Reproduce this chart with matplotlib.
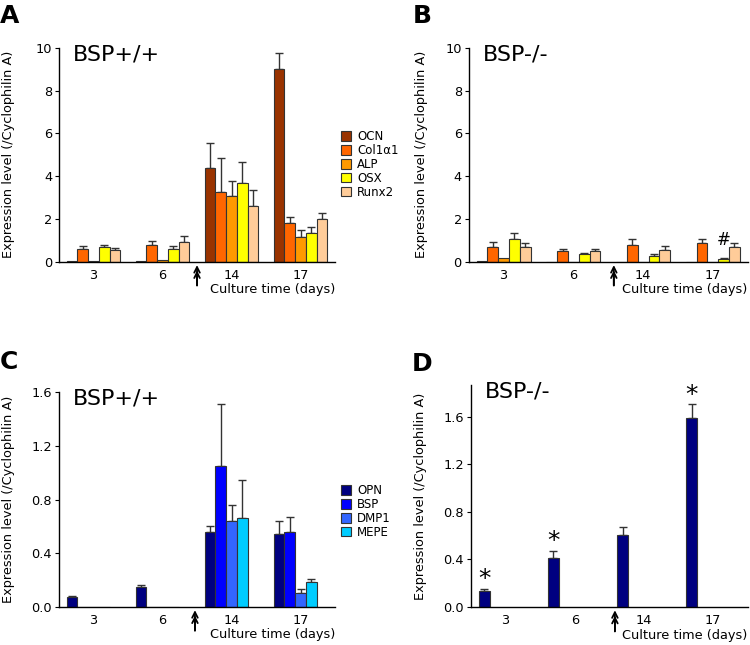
import numpy as np
import matplotlib.pyplot as plt
from matplotlib.transforms import blended_transform_factory

days = ['3', '6', '14', '17']

osteo_genes = ['OCN', 'Col1α1', 'ALP', 'OSX', 'Runx2']
osteo_colors = ['#993300', '#ff6600', '#ff9900', '#ffff00', '#ffcc99']

# panel A, BSP+/+
wt_osteo = [[0.02, 0.02, 4.40, 9.00],
            [0.60, 0.78, 3.25, 1.80],
            [0.03, 0.08, 3.08, 1.14],
            [0.70, 0.58, 3.70, 1.33],
            [0.57, 0.95, 2.60, 2.01]]
wt_osteo_err = [[0, 0, 1.15, 0.76],
                [0.12, 0.19, 1.60, 0.31],
                [0, 0, 0.70, 0.37],
                [0.10, 0.16, 0.98, 0.28],
                [0.06, 0.25, 0.75, 0.25]]

# panel B, BSP-/-
ko_osteo = [[0.02, 0, 0, 0],
            [0.70, 0.51, 0.79, 0.89],
            [0.20, 0, 0, 0],
            [1.09, 0.39, 0.28, 0.13],
            [0.70, 0.51, 0.55, 0.70]]
ko_osteo_err = [[0, 0, 0, 0],
                [0.23, 0.11, 0.30, 0.20],
                [0, 0, 0, 0],
                [0.28, 0.03, 0.08, 0.07],
                [0.20, 0.11, 0.18, 0.20]]
ko_osteo_marks = ['', '', '', '#']  # above OSX

sibling_genes = ['OPN', 'BSP', 'DMP1', 'MEPE']
sibling_colors = ['#000080', '#0000ff', '#3366ff', '#00ccff']

# panel C, BSP+/+
wt_sib = [[0.074, 0.149, 0.556, 0.546],
          [0, 0, 1.047, 0.556],
          [0.003, 0.003, 0.640, 0.104],
          [0.003, 0.003, 0.663, 0.186]]
wt_sib_err = [[0.010, 0.017, 0.044, 0.092],
              [0, 0, 0.462, 0.114],
              [0, 0, 0.117, 0.032],
              [0, 0, 0.280, 0.025]]

# panel D, BSP-/- (OPN only)
ko_opn = [0.131, 0.411, 0.601, 1.586]
ko_opn_err = [0.020, 0.062, 0.068, 0.117]
ko_opn_marks = ['*', '*', '', '*']

W = 0.155
FS = 9.3


def bar_panel(ax, values, errors, colors, ylim, yticks, ytl, title, arrow_x):
    x = np.arange(len(days))
    bars = []
    for i, (vals, errs, col) in enumerate(zip(values, errors, colors)):
        xi = x + (i - 2) * W
        b = ax.bar(xi, vals, W, color=col, edgecolor='#333333', linewidth=0.8, zorder=2)
        bars.append(b)
        errs = np.array(errs)
        m = errs > 0
        ax.errorbar(xi[m], np.array(vals)[m], yerr=[np.zeros(m.sum()), errs[m]],
                    fmt='none', ecolor='#333333', elinewidth=1, capsize=3, capthick=1, zorder=1)
    ax.set_xlim(-0.5, 3.5)
    ax.set_ylim(*ylim)
    ax.set_yticks(yticks)
    ax.set_yticklabels(ytl, fontsize=FS)
    ax.set_xticks(x)
    ax.set_xticklabels(days, fontsize=FS)
    ax.tick_params(axis='x', length=0, pad=5)
    ax.tick_params(axis='y', length=3, width=0.8, pad=2)
    for s in ['top', 'right']:
        ax.spines[s].set_visible(False)
    for s in ['left', 'bottom']:
        ax.spines[s].set_linewidth(1)
    ax.set_ylabel('Expression level (/Cyclophilin A)', fontsize=FS)
    ax.text(0.05, 0.97, title, transform=ax.transAxes, fontsize=16, va='center', ha='left')
    ax.text(1.0, -0.13, 'Culture time (days)', transform=ax.transAxes,
            fontsize=FS, ha='right', va='center')
    tr = blended_transform_factory(ax.transData, ax.transAxes)
    ax.annotate('', xy=(arrow_x, -0.015), xytext=(arrow_x, -0.11), xycoords=tr, textcoords=tr,
                arrowprops=dict(arrowstyle='->', lw=1.3, color='black', shrinkA=0, shrinkB=0),
                annotation_clip=False)
    ax.annotate('', xy=(arrow_x, -0.04), xytext=(arrow_x, -0.11), xycoords=tr, textcoords=tr,
                arrowprops=dict(arrowstyle='->', lw=1.3, color='black', shrinkA=0, shrinkB=0),
                annotation_clip=False)
    return bars


fig = plt.figure(figsize=(7.5, 6.45), dpi=100)
axA = fig.add_axes([0.0787, 0.594, 0.368, 0.332])
axB = fig.add_axes([0.625, 0.594, 0.372, 0.332])
axC = fig.add_axes([0.0787, 0.059, 0.368, 0.333])
axD = fig.add_axes([0.628, 0.059, 0.369, 0.344])

yt10 = [0, 2, 4, 6, 8, 10]
barsA = bar_panel(axA, wt_osteo, wt_osteo_err, osteo_colors, (0, 10), yt10,
                  [str(v) for v in yt10], 'BSP+/+', 1.5)
bar_panel(axB, ko_osteo, ko_osteo_err, osteo_colors, (0, 10), yt10,
          [str(v) for v in yt10], 'BSP-/-', 1.58)

yt16 = [0, 0.4, 0.8, 1.2, 1.6]
barsC = bar_panel(axC, wt_sib, wt_sib_err, sibling_colors, (0, 1.6), yt16,
                  ['%.1f' % v for v in yt16], 'BSP+/+', 1.47)
bar_panel(axD, [ko_opn], [ko_opn_err], sibling_colors[:1], (0, 1.866), yt16,
          ['%.1f' % v for v in yt16], 'BSP-/-', 1.58)

for ax, pos in [(axA, -0.16), (axC, -0.16), (axB, -0.147), (axD, -0.159)]:
    ax.yaxis.set_label_coords(pos, 0.5)

# significance marks
x = np.arange(len(days))
for xi, v, e, m in zip(x + 1 * W, ko_osteo[3], ko_osteo_err[3], ko_osteo_marks):
    if m:
        axB.annotate(m, xy=(xi, v + e), xytext=(0, 13), textcoords='offset points',
                     ha='center', va='center', fontsize=12)
for xi, v, e, m in zip(x - 2 * W, ko_opn, ko_opn_err, ko_opn_marks):
    if m:
        axD.annotate(m, xy=(xi, v + e), xytext=(0, 7), textcoords='offset points',
                     ha='center', va='center', fontsize=18)

leg_kw = dict(loc='upper left', frameon=False, fontsize=8.5, handlelength=0.85,
              handleheight=0.85, handletextpad=0.5, labelspacing=0.08,
              borderpad=0, borderaxespad=0)
fig.legend(barsA, osteo_genes, bbox_to_anchor=(341 / 750, 1 - 130 / 645), **leg_kw)
fig.legend(barsC, sibling_genes, bbox_to_anchor=(341 / 750, 1 - 484 / 645), **leg_kw)

for lab, px, py in [('A', 0, 4), ('B', 413, 4), ('C', 0, 350), ('D', 412, 352)]:
    fig.text(px / 750, 1 - py / 645, lab, fontsize=18, fontweight='bold', ha='left', va='top')

fig.savefig('out.png', dpi=100)
